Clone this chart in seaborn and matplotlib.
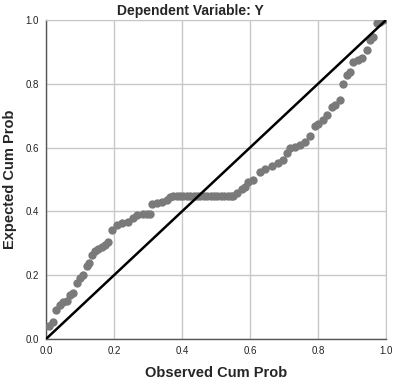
import matplotlib
matplotlib.use("Agg")
import matplotlib.pyplot as plt
import numpy as np
import pandas as pd
import seaborn as sns

# P-P plot values
observed = [
    0.010, 0.020, 0.029, 0.041, 0.050, 0.061, 0.071, 0.079, 0.090, 0.100,
    0.109, 0.120, 0.126, 0.134, 0.144, 0.153, 0.164, 0.174, 0.182, 0.193,
    0.208, 0.223, 0.241, 0.256, 0.267, 0.285, 0.296, 0.306, 0.311, 0.326,
    0.340, 0.355, 0.365, 0.374, 0.384, 0.394, 0.404, 0.414, 0.424, 0.434,
    0.444, 0.454, 0.464, 0.474, 0.484, 0.494, 0.504, 0.514, 0.524, 0.534,
    0.544, 0.550, 0.561, 0.576, 0.585, 0.594, 0.609, 0.629, 0.644, 0.664,
    0.682, 0.697, 0.708, 0.718, 0.732, 0.747, 0.762, 0.776, 0.791, 0.800,
    0.815, 0.826, 0.840, 0.850, 0.865, 0.873, 0.884, 0.894, 0.903, 0.918,
    0.929, 0.943, 0.953, 0.962, 0.973, 0.982, 0.990,
]
expected = [
    0.041, 0.054, 0.091, 0.107, 0.116, 0.120, 0.138, 0.145, 0.176, 0.191,
    0.201, 0.229, 0.238, 0.263, 0.276, 0.282, 0.288, 0.295, 0.305, 0.342,
    0.357, 0.365, 0.368, 0.379, 0.389, 0.392, 0.392, 0.392, 0.423, 0.426,
    0.430, 0.436, 0.446, 0.449, 0.449, 0.449, 0.449, 0.449, 0.449, 0.449,
    0.449, 0.449, 0.449, 0.449, 0.449, 0.449, 0.449, 0.449, 0.449, 0.449,
    0.449, 0.449, 0.458, 0.470, 0.476, 0.493, 0.498, 0.524, 0.533, 0.542,
    0.552, 0.561, 0.583, 0.599, 0.603, 0.608, 0.618, 0.636, 0.668, 0.674,
    0.687, 0.702, 0.728, 0.734, 0.749, 0.799, 0.828, 0.838, 0.869, 0.875,
    0.881, 0.906, 0.937, 0.948, 0.991, 0.995, 1.000,
]
diag = [0.0, 1.0]
ticks = [0.0, 0.2, 0.4, 0.6, 0.8, 1.0]
tick_labels = ["0.0", "0.2", "0.4", "0.6", "0.8", "1.0"]

df = pd.DataFrame({"obs": observed, "exp": expected})
ref = pd.DataFrame({"x": diag, "y": diag})

sns.set_style("white")
plt.rcParams["font.family"] = ["Liberation Sans", "DejaVu Sans"]

fig = plt.figure(figsize=(4.11, 3.87), dpi=100)
ax = fig.add_axes([46 / 411, 48 / 387, 340 / 411, 319 / 387])

ax.grid(True, color="#c8c8c8", linewidth=1.0)
ax.set_axisbelow(True)

sns.scatterplot(data=df, x="obs", y="exp", ax=ax, color="#7a7a7a",
                s=36, linewidth=0, zorder=3)
sns.lineplot(data=ref, x="x", y="y", ax=ax, color="black",
             linewidth=1.8, zorder=4)

ax.set_xlim(0, 1)
ax.set_ylim(0, 1)
ax.set_xticks(ticks)
ax.set_yticks(ticks)
ax.set_xticklabels(tick_labels)
ax.set_yticklabels(tick_labels)
ax.tick_params(labelsize=7, colors="#222222", length=0, pad=5)

for side in ["top", "right"]:
    ax.spines[side].set_color("#c8c8c8")
for side in ["left", "bottom"]:
    ax.spines[side].set_color("#555555")
    ax.spines[side].set_linewidth(1.0)

ax.set_xlabel("Observed Cum Prob", fontsize=10.5, fontweight="bold")
ax.set_ylabel("Expected Cum Prob", fontsize=10.5, fontweight="bold")
ax.xaxis.set_label_coords(0.5, -0.107)
ax.yaxis.set_label_coords(-0.106, 0.5)
ax.xaxis.label.set_va("center")
ax.yaxis.label.set_va("center")

fig.text(190 / 411, 1 - 11 / 387, "Dependent Variable: Y", ha="center",
         va="center", fontsize=10, fontweight="bold")

fig.savefig("out.png", dpi=100)
